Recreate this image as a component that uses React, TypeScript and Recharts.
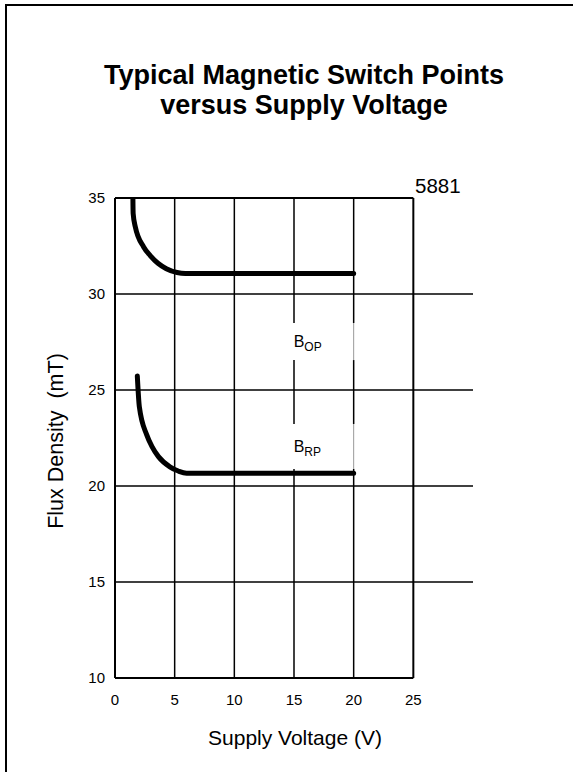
import React from "react";
import {
  ComposedChart,
  Line,
  XAxis,
  YAxis,
  ReferenceLine,
  ReferenceArea,
} from "recharts";

const xTicks = [0, 5, 10, 15, 20, 25];
const yTicks = [10, 15, 20, 25, 30, 35];
const fullHLines = [15, 20, 25, 30];

const bopData = [
  { v: 1.5, b: 35.0 },
  { v: 1.52, b: 34.2 },
  { v: 1.7, b: 33.5 },
  { v: 2.4, b: 32.45 },
  { v: 2.95, b: 32.0 },
  { v: 3.6, b: 31.6 },
  { v: 4.3, b: 31.32 },
  { v: 5.2, b: 31.12 },
  { v: 5.9, b: 31.07 },
  { v: 20.0, b: 31.07 },
];

const brpData = [
  { v: 1.87, b: 25.73 },
  { v: 2.04, b: 24.13 },
  { v: 2.66, b: 22.66 },
  { v: 3.1, b: 22.05 },
  { v: 3.64, b: 21.53 },
  { v: 4.6, b: 21.0 },
  { v: 5.3, b: 20.78 },
  { v: 6.0, b: 20.66 },
  { v: 20.0, b: 20.66 },
];

// label box gaps (y ranges) on the 15 and 20 grid lines
const gapOP = [26.56, 28.49];
const gapRP = [20.89, 23.23];

const FONT = "'Liberation Sans', Arial, sans-serif";

function vSegments(x: number) {
  if (x === 15 || x === 20) {
    return [
      [10, gapRP[0]],
      [gapRP[1], gapOP[0]],
      [gapOP[1], 35],
    ];
  }
  return [[10, 35]];
}

function makeLabel(sub: string, dyTop: number) {
  return (props: any) => {
    const vb = props.viewBox || {};
    return (
      <text
        x={vb.x + 0.5}
        y={vb.y + dyTop}
        fontFamily={FONT}
        fontSize={16}
        fill="#000"
      >
        B
        <tspan fontSize={12} dy={4}>
          {sub}
        </tspan>
      </text>
    );
  };
}

export default function App() {
  return (
    <div
      style={{
        position: "absolute",
        left: 0,
        top: 0,
        width: 573,
        height: 772,
        background: "#fff",
        fontFamily: FONT,
        overflow: "hidden",
      }}
    >
      <div
        style={{
          position: "absolute",
          left: 5,
          top: 4,
          width: 580,
          height: 780,
          borderLeft: "2px solid #000",
          borderTop: "2px solid #000",
        }}
      />
      <div
        style={{
          position: "absolute",
          left: 0,
          width: 608,
          top: 60,
          textAlign: "center",
          fontWeight: "bold",
          fontSize: 27,
          lineHeight: "30px",
          color: "#000",
        }}
      >
        Typical Magnetic Switch Points
        <br />
        versus Supply Voltage
      </div>
      <div
        style={{
          position: "absolute",
          left: 415,
          top: 176,
          fontSize: 20.5,
          lineHeight: "20px",
          color: "#000",
        }}
      >
        5881
      </div>
      <div
        style={{
          position: "absolute",
          left: 0,
          width: 590,
          top: 727,
          textAlign: "center",
          fontSize: 21,
          lineHeight: "21px",
          color: "#000",
        }}
      >
        Supply Voltage (V)
      </div>
      <div
        style={{
          position: "absolute",
          left: 56,
          top: 441,
          transform: "translate(-50%, -50%) rotate(-90deg)",
          whiteSpace: "pre",
          fontSize: 21.5,
          lineHeight: "22px",
          color: "#000",
        }}
      >
        {"Flux Density  (mT)"}
      </div>
      <div style={{ position: "absolute", left: 0, top: 0 }}>
        <ComposedChart
          width={573}
          height={772}
          margin={{ top: 198, right: 100, bottom: 64, left: 55 }}
        >
          <XAxis
            dataKey="v"
            type="number"
            domain={[0, 30]}
            ticks={xTicks}
            axisLine={false}
            tickLine={false}
            height={30}
            tick={{ fill: "#000", fontSize: 15, fontFamily: FONT }}
            tickMargin={10}
            allowDataOverflow
          />
          <YAxis
            type="number"
            domain={[10, 35]}
            ticks={yTicks}
            axisLine={false}
            tickLine={false}
            width={60}
            tick={{ fill: "#000", fontSize: 15, fontFamily: FONT }}
            tickMargin={4}
            allowDataOverflow
          />
          {xTicks.map((x) =>
            vSegments(x).map(([a, b], i) => (
              <ReferenceLine
                key={"v" + x + "-" + i}
                segment={[
                  { x, y: a },
                  { x, y: b },
                ]}
                stroke="#000"
                strokeWidth={x === 0 || x === 25 ? 2 : 1.5}
              />
            ))
          )}
          {[gapOP, gapRP].map(([a, b], i) => (
            <ReferenceLine
              key={"g" + i}
              segment={[
                { x: 20, y: a },
                { x: 20, y: b },
              ]}
              stroke="#999"
              strokeWidth={1}
            />
          ))}
          {fullHLines.map((y) => (
            <ReferenceLine
              key={"h" + y}
              segment={[
                { x: 0, y },
                { x: 30, y },
              ]}
              stroke="#000"
              strokeWidth={1.5}
            />
          ))}
          {[10, 35].map((y) => (
            <ReferenceLine
              key={"b" + y}
              segment={[
                { x: 0, y },
                { x: 25, y },
              ]}
              stroke="#000"
              strokeWidth={2}
            />
          ))}
          <ReferenceArea
            x1={14.93}
            x2={19.95}
            y1={gapOP[0]}
            y2={gapOP[1]}
            fill="none"
            stroke="none"
            label={makeLabel("OP", 24)}
          />
          <ReferenceArea
            x1={14.93}
            x2={19.95}
            y1={gapRP[0]}
            y2={gapRP[1]}
            fill="none"
            stroke="none"
            label={makeLabel("RP", 28)}
          />
          <Line
            data={bopData}
            dataKey="b"
            type="monotone"
            stroke="#000"
            strokeWidth={5}
            strokeLinecap="round"
            strokeLinejoin="round"
            dot={false}
            activeDot={false}
            isAnimationActive={false}
          />
          <Line
            data={brpData}
            dataKey="b"
            type="monotone"
            stroke="#000"
            strokeWidth={5}
            strokeLinecap="round"
            strokeLinejoin="round"
            dot={false}
            activeDot={false}
            isAnimationActive={false}
          />
        </ComposedChart>
      </div>
    </div>
  );
}
